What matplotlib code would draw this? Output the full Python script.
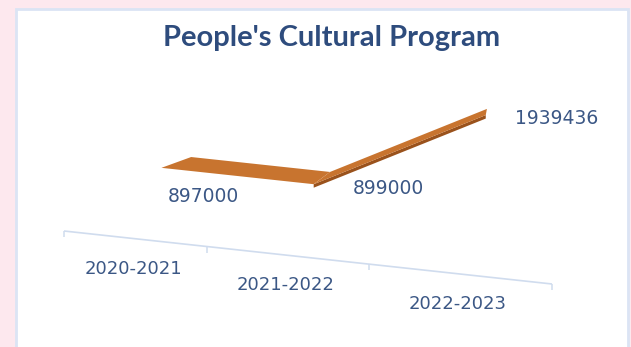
import numpy as np
import matplotlib
matplotlib.use("Agg")
import matplotlib.pyplot as plt
from matplotlib.transforms import Affine2D, IdentityTransform
from matplotlib.patches import Polygon, Rectangle

# ---- data ----
categories = ["2020-2021", "2021-2022", "2022-2023"]
values = [897000, 899000, 1939436]
title = "People's Cultural Program"

# ---- styling ----
W, H, DPI = 631, 347, 100
BG = "#fde8ee"
FRAME = "#dbe4f4"
AXIS = "#d0dcee"
TITLE_C = "#2e4c7d"
TEXT_C = "#3b5785"
TOP_FACE = "#c8742f"
SIDE_FACE = "#9a521c"

fig = plt.figure(figsize=(W / DPI, H / DPI), dpi=DPI)
fig.patch.set_facecolor(BG)

# white chart panel with a thin light-blue frame
panel = Rectangle((15.5 / W, -0.05), (627.5 - 15.5) / W, 338 / H + 0.05,
                  transform=fig.transFigure, facecolor="white",
                  edgecolor=FRAME, linewidth=2.0, zorder=-1)
fig.patches.append(panel)

fig.text(331.5 / W, (H - 46) / H, title, ha="center", va="baseline",
         fontsize=21, fontweight="bold", family="Lato", color=TITLE_C)

# plot area: categories along x, values up
ax = fig.add_axes([64 / W, 116 / H, 488 / W, 211 / H])
ax.set_axis_off()

# perspective-like foreshortening of the category axis
r = 1.13
ax.set_xscale("function",
              functions=(lambda x: (r ** np.asarray(x) - 1) / (r - 1),
                         lambda y: np.log(np.asarray(y) * (r - 1) + 1) / np.log(r)))
ax.set_xlim(0, len(categories))
ax.set_ylim(0, 2.5e6)

# floor tilt: the category axis runs down to the right
k, x0 = 0.1086, 64.0
shear = Affine2D(np.array([[1.0, 0.0, 0.0], [-k, 1.0, k * x0], [0.0, 0.0, 1.0]]))
base = ax.transData + shear

# category axis line, ticks and labels
edges = np.arange(len(categories) + 1)
ax.plot([edges[0], edges[-1]], [0, 0], transform=base, color=AXIS,
        lw=1.2, clip_on=False, solid_capstyle="butt")
ax.plot(edges, np.zeros_like(edges), transform=base, ls="none", marker=3,
        ms=4, mew=1.1, color=AXIS, clip_on=False)
centers = np.arange(len(categories)) + 0.5
for c, lab in zip(centers, categories):
    ax.text(c, 0, lab, transform=base + Affine2D().translate(0, -30),
            ha="center", va="center", fontsize=13, color=TEXT_C,
            family="DejaVu Sans", clip_on=False)

# ribbon: front edge sits slightly in front of the floor line,
# back edge recedes towards a vanishing point
front = base + Affine2D().translate(28, -5)
vp = (499.0, 302.0)
depth = 0.088
back = front + Affine2D().translate(-vp[0], -vp[1]).scale(1 - depth).translate(*vp)

pts = np.column_stack([centers, values])
pf = front.transform(pts)
pb = back.transform(pts)
thick = np.array([0.0, 3.5])
for i in range(len(values) - 1):
    rising = (pf[i + 1, 1] - pf[i, 1]) > 5
    if rising:
        # the shaded side of the ribbon only shows where it climbs
        side = [pf[i], pf[i + 1], pf[i + 1] - thick, pf[i] - thick]
        ax.add_patch(Polygon(side, closed=True, transform=IdentityTransform(),
                             facecolor=SIDE_FACE, edgecolor="none",
                             clip_on=False, zorder=3))
    top = [pf[i], pf[i + 1], pb[i + 1], pb[i]]
    ax.add_patch(Polygon(top, closed=True, transform=IdentityTransform(),
                         facecolor=TOP_FACE, edgecolor="none", clip_on=False, zorder=4))

# value labels
label_offsets = [(42, -29), (75, -4), (71, -3)]
for c, v, off in zip(centers, values, label_offsets):
    ax.annotate(f"{v}", xy=(c, v), xycoords=front, xytext=off,
                textcoords="offset pixels", ha="center", va="center",
                fontsize=13.5, color=TEXT_C, family="DejaVu Sans",
                annotation_clip=False)

fig.savefig("out.png", dpi=DPI, facecolor=BG)
